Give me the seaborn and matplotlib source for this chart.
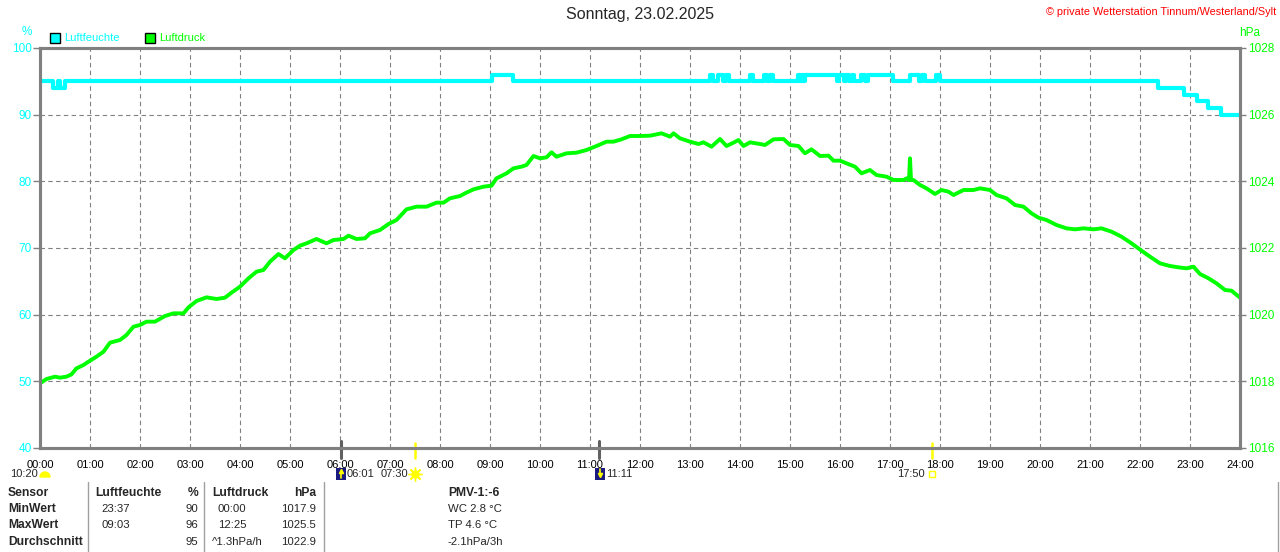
import matplotlib
matplotlib.use("Agg")
import matplotlib.pyplot as plt
from matplotlib.patches import Rectangle, Wedge
from matplotlib.lines import Line2D
import seaborn as sns

# humidity (%) as step breakpoints: hour -> value
hum_hours = [0.0, 0.26, 0.35, 0.40, 0.50, 9.04, 9.45,
             13.40, 13.45, 13.55, 13.65, 13.72, 13.78,
             14.20, 14.25, 14.48, 14.53, 14.60, 14.65,
             15.16, 15.20, 15.23, 15.26, 15.30, 15.93, 15.98, 16.08, 16.12,
             16.18, 16.23, 16.27, 16.42, 16.50, 16.55, 17.05,
             17.40, 17.58, 17.63, 17.70, 17.75, 17.92, 18.00,
             22.36, 22.87, 23.13, 23.35, 23.62, 24.0]
hum_values = [95, 94, 95, 94, 95, 96, 95,
              96, 95, 96, 95, 96, 95,
              96, 95, 96, 95, 96, 95,
              96, 95, 96, 95, 96, 95, 96, 95, 96,
              95, 96, 95, 96, 95, 96, 95,
              96, 95, 96, 95, 95, 96, 95,
              94, 93, 92, 91, 90, 90]

# air pressure (hPa)
press_hours = [0.00, 0.13, 0.30, 0.40, 0.53, 0.63, 0.73, 0.87, 1.00, 1.13, 1.27, 1.40,
               1.60, 1.73, 1.87, 2.00, 2.13, 2.30, 2.50, 2.67, 2.87, 2.97, 3.13, 3.33,
               3.53, 3.70, 3.83, 4.00, 4.17, 4.33, 4.47, 4.60, 4.77, 4.90, 5.07, 5.20,
               5.33, 5.53, 5.73, 5.87, 6.07, 6.17, 6.33, 6.50, 6.60, 6.80, 6.97, 7.13,
               7.33, 7.53, 7.73, 7.93, 8.07, 8.20, 8.40, 8.50, 8.67, 8.87, 9.03, 9.13,
               9.33, 9.47, 9.63, 9.73, 9.87, 10.00, 10.13, 10.23, 10.33, 10.53, 10.73, 10.93,
               11.13, 11.33, 11.47, 11.63, 11.80, 12.00, 12.20, 12.43, 12.60, 12.67, 12.80, 13.00,
               13.17, 13.27, 13.43, 13.60, 13.73, 13.87, 13.97, 14.07, 14.20, 14.40, 14.50, 14.67,
               14.87, 15.00, 15.17, 15.30, 15.43, 15.60, 15.77, 15.87, 16.00, 16.13, 16.30, 16.43,
               16.60, 16.73, 16.93, 17.07, 17.27, 17.33, 17.38, 17.40, 17.42, 17.47, 17.60, 17.73,
               17.90, 18.03, 18.17, 18.27, 18.47, 18.67, 18.80, 19.00, 19.13, 19.33, 19.50, 19.67,
               19.83, 19.97, 20.13, 20.33, 20.53, 20.70, 20.87, 21.07, 21.23, 21.43, 21.63, 21.83,
               22.03, 22.20, 22.40, 22.60, 22.77, 22.93, 23.07, 23.20, 23.37, 23.53, 23.70, 23.83,
               24.00]
press_values = [1017.94, 1018.07, 1018.14, 1018.11, 1018.14, 1018.21, 1018.39, 1018.49, 1018.62, 1018.74, 1018.89, 1019.16,
                1019.24, 1019.39, 1019.64, 1019.69, 1019.79, 1019.79, 1019.96, 1020.04, 1020.04, 1020.22, 1020.41, 1020.52,
                1020.47, 1020.51, 1020.66, 1020.84, 1021.09, 1021.29, 1021.34, 1021.59, 1021.82, 1021.69, 1021.94, 1022.07,
                1022.14, 1022.27, 1022.14, 1022.24, 1022.27, 1022.37, 1022.27, 1022.29, 1022.44, 1022.54, 1022.72, 1022.84,
                1023.16, 1023.24, 1023.24, 1023.36, 1023.36, 1023.49, 1023.56, 1023.64, 1023.76, 1023.84, 1023.87, 1024.09,
                1024.24, 1024.39, 1024.44, 1024.49, 1024.76, 1024.69, 1024.72, 1024.87, 1024.74, 1024.84, 1024.86, 1024.94,
                1025.06, 1025.19, 1025.19, 1025.26, 1025.36, 1025.36, 1025.37, 1025.44, 1025.34, 1025.44, 1025.29, 1025.19,
                1025.12, 1025.17, 1025.04, 1025.27, 1025.06, 1025.16, 1025.24, 1025.06, 1025.17, 1025.12, 1025.09, 1025.26,
                1025.27, 1025.09, 1025.06, 1024.84, 1024.96, 1024.76, 1024.77, 1024.62, 1024.62, 1024.54, 1024.44, 1024.24,
                1024.34, 1024.19, 1024.14, 1024.04, 1024.04, 1024.09, 1024.04, 1024.69, 1024.04, 1024.04, 1023.89, 1023.79,
                1023.62, 1023.74, 1023.69, 1023.59, 1023.74, 1023.74, 1023.79, 1023.74, 1023.59, 1023.49, 1023.29, 1023.24,
                1023.04, 1022.91, 1022.84, 1022.69, 1022.59, 1022.56, 1022.59, 1022.56, 1022.59, 1022.49, 1022.34, 1022.14,
                1021.92, 1021.74, 1021.54, 1021.46, 1021.42, 1021.39, 1021.44, 1021.22, 1021.09, 1020.94, 1020.74, 1020.72,
                1020.51]

hour_labels = ["%02d:00" % h for h in range(25)]
hum_ticks = [40, 50, 60, 70, 80, 90, 100]
press_ticks = [1016, 1018, 1020, 1022, 1024, 1026, 1028]

# sun / moon events below the axis
moon_hours = [6 + 1 / 60, 11 + 11 / 60]
sun_hours = [7.5, 17 + 50 / 60]

CYAN = "#00ffff"
GREEN = "#00ff00"
GRAY = "#808080"
YELLOW = "#ffff00"
NAVY = "#1a1a80"

sns.set_style("white")
plt.rcParams["font.family"] = ["Liberation Sans", "DejaVu Sans"]

W, H = 1280, 552
fig = plt.figure(figsize=(W / 100, H / 100), dpi=100)
ax = fig.add_axes([40 / W, (H - 448) / H, 1200 / W, 400 / H])
ax2 = ax.twinx()


def fx(x):
    return x / W


def fy(y):
    return 1 - y / H


sns.lineplot(x=press_hours, y=press_values, ax=ax2, color=GREEN, lw=2.8, estimator=None)
sns.lineplot(x=hum_hours, y=hum_values, ax=ax, color=CYAN, lw=3.0, estimator=None,
             drawstyle="steps-post")

ax.set_xlim(0, 24)
ax.set_ylim(40, 100)
ax2.set_ylim(1016, 1028)
ax.set_xticks(range(25))
ax.set_xticklabels(hour_labels)
ax.set_yticks(hum_ticks)
ax2.set_yticks(press_ticks)
ax.set_xlabel("")
ax.set_ylabel("")
ax2.set_ylabel("")

ax.grid(True, color=GRAY, lw=0.8, linestyle=(0, (4, 3)))
ax2.grid(False)
ax.set_axisbelow(True)

for a in (ax, ax2):
    for s in a.spines.values():
        s.set_color(GRAY)
        s.set_linewidth(2.2)

ax.tick_params(axis="x", length=5, width=1, color=GRAY, pad=4, labelsize=8, labelcolor="black")
ax.tick_params(axis="y", length=5, width=1, color=GRAY, pad=1, labelsize=8.5, labelcolor=CYAN)
ax2.tick_params(axis="y", length=4, width=1, color=GRAY, pad=2, labelsize=8.5, labelcolor=GREEN)

for h in moon_hours:
    ax.axvline(h, ymin=-0.025, ymax=0.018, color="#606060", lw=2.2, clip_on=False, zorder=5)
for h in sun_hours:
    ax.axvline(h, ymin=-0.025, ymax=0.012, color=YELLOW, lw=1.8, clip_on=False, zorder=5)

# titles and legend
fig.text(0.5, fy(15), "Sonntag, 23.02.2025", ha="center", va="center", fontsize=11.5)
fig.text(fx(1276), fy(12), "\u00a9 private Wetterstation Tinnum/Westerland/Sylt", ha="right",
         va="center", fontsize=7.8, color="#ff0000")
fig.text(fx(27), fy(32), "%", ha="center", va="center", fontsize=8.5, color=CYAN)
fig.text(fx(1250), fy(33), "hPa", ha="center", va="center", fontsize=8.5, color=GREEN)
fig.patches.append(Rectangle((fx(50), fy(43)), 10 / W, 10 / H, transform=fig.transFigure,
                             facecolor=CYAN, edgecolor="black", lw=1))
fig.patches.append(Rectangle((fx(145), fy(43)), 10 / W, 10 / H, transform=fig.transFigure,
                             facecolor=GREEN, edgecolor="black", lw=1))
fig.text(fx(64), fy(38), "Luftfeuchte", va="center", fontsize=8, color=CYAN)
fig.text(fx(159), fy(38), "Luftdruck", va="center", fontsize=8, color=GREEN)

# sun / moon row
ROW = 474
fig.text(fx(10), fy(ROW), "10:20", va="center", fontsize=8)
fig.patches.append(Wedge((45 / 100, (H - 477) / 100), 0.05, 0, 180,
                         transform=fig.dpi_scale_trans, facecolor=YELLOW, edgecolor=YELLOW))
# moonrise icon
fig.patches.append(Rectangle((fx(336), fy(480)), 10 / W, 12 / H, transform=fig.transFigure,
                             facecolor=NAVY, edgecolor="none"))
fig.add_artist(Line2D([fx(341), fx(341)], [fy(478), fy(471)], color=YELLOW, lw=1.2,
                      marker="^", markevery=[1], ms=3, transform=fig.transFigure))
fig.text(fx(347), fy(ROW), "06:01", va="center", fontsize=8)
# sunrise
fig.text(fx(408), fy(ROW), "07:30", ha="right", va="center", fontsize=8)
fig.add_artist(Line2D([fx(415)], [fy(474)], color=YELLOW, marker=(8, 2, 0), ms=10, mew=1,
                      transform=fig.transFigure))
fig.add_artist(Line2D([fx(415)], [fy(474)], color=YELLOW, marker="o", ms=5,
                      transform=fig.transFigure))
# moonset icon
fig.patches.append(Rectangle((fx(595), fy(480)), 10 / W, 12 / H, transform=fig.transFigure,
                             facecolor=NAVY, edgecolor="none"))
fig.add_artist(Line2D([fx(600), fx(600)], [fy(469), fy(475)], color=YELLOW, lw=1.2,
                      marker="v", markevery=[1], ms=3, transform=fig.transFigure))
fig.text(fx(606), fy(ROW), "11:11", va="center", fontsize=8)
# sunset
fig.text(fx(925), fy(ROW), "17:50", ha="right", va="center", fontsize=8)
fig.patches.append(Rectangle((fx(929), fy(477)), 6 / W, 6 / H, transform=fig.transFigure,
                             facecolor="none", edgecolor=YELLOW, lw=1))

# statistics table
BOLD = 8.7
REG = 8.2
rows_y = [493, 509, 525, 542]
for y, t in zip(rows_y, ["Sensor", "MinWert", "MaxWert", "Durchschnitt"]):
    fig.text(fx(8), fy(y), t, va="center", fontsize=BOLD, weight="bold")

fig.text(fx(95), fy(rows_y[0]), "Luftfeuchte", va="center", fontsize=BOLD, weight="bold")
fig.text(fx(198), fy(rows_y[0]), "%", ha="right", va="center", fontsize=BOLD, weight="bold")
fig.text(fx(101), fy(rows_y[1]), "23:37", va="center", fontsize=REG)
fig.text(fx(101), fy(rows_y[2]), "09:03", va="center", fontsize=REG)
for y, v in zip(rows_y[1:], ["90", "96", "95"]):
    fig.text(fx(198), fy(y), v, ha="right", va="center", fontsize=REG)

fig.text(fx(212), fy(rows_y[0]), "Luftdruck", va="center", fontsize=BOLD, weight="bold")
fig.text(fx(316), fy(rows_y[0]), "hPa", ha="right", va="center", fontsize=BOLD, weight="bold")
fig.text(fx(218), fy(rows_y[1]), "00:00", va="center", fontsize=REG)
fig.text(fx(218), fy(rows_y[2]), "12:25", va="center", fontsize=REG)
fig.text(fx(212), fy(rows_y[3]), "^1.3hPa/h", va="center", fontsize=REG)
for y, v in zip(rows_y[1:], ["1017.9", "1025.5", "1022.9"]):
    fig.text(fx(316), fy(y), v, ha="right", va="center", fontsize=REG)

fig.text(fx(448), fy(rows_y[0]), "PMV-1:-6", va="center", fontsize=BOLD, weight="bold")
fig.text(fx(448), fy(rows_y[1]), "WC 2.8 \u00b0C", va="center", fontsize=REG)
fig.text(fx(448), fy(rows_y[2]), "TP 4.6 \u00b0C", va="center", fontsize=REG)
fig.text(fx(448), fy(rows_y[3]), "-2.1hPa/3h", va="center", fontsize=REG)

for x in [88, 204, 324, 1278]:
    fig.add_artist(Line2D([fx(x), fx(x)], [fy(482), fy(552)], color="#a0a0a0", lw=1,
                          transform=fig.transFigure))

fig.savefig("out.png", dpi=100, facecolor="white")
